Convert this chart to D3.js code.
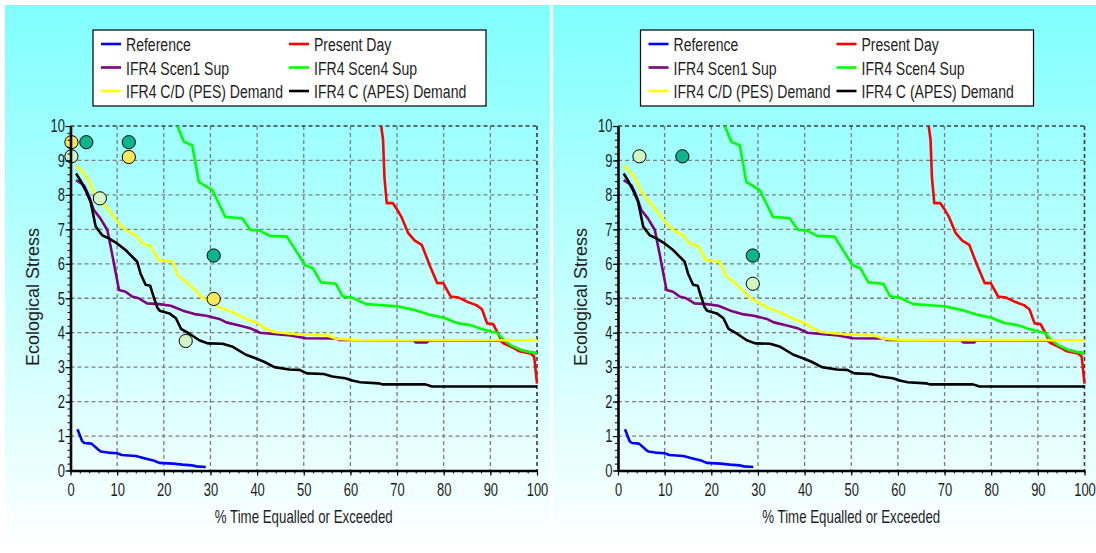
<!DOCTYPE html>
<html>
<head>
<meta charset="utf-8">
<script src="https://cdn.jsdelivr.net/npm/d3@7"></script>
<style>
  html, body { margin: 0; padding: 0; background: #ffffff; }
  svg { display: block; }
  text { font-family: "Liberation Sans", Arial, sans-serif; fill: #1e1e1e; }
</style>
</head>
<body>
<svg id="chart" width="1096" height="553"></svg>
<script>
// Axis ticks
const xTicks = [0, 10, 20, 30, 40, 50, 60, 70, 80, 90, 100];
const yTicks = [0, 1, 2, 3, 4, 5, 6, 7, 8, 9, 10];
const xMinorStep = 2;
const yMinorStep = 0.2;

// Duration curves: [% time equalled or exceeded, ecological stress]
const reference = [[1.5,1.2],[2.5,0.85],[3,0.8],[4.5,0.78],[6,0.6],[6.5,0.55],[8,0.52],[10,0.5],[11,0.45],[14,0.42],[16,0.35],[18,0.28],[19,0.22],[22,0.2],[24,0.17],[26,0.15],[27,0.12],[29,0.1]];
const presentDay = [[66.6,10],[67.0,9.6],[67.3,8.5],[67.8,7.76],[69.1,7.76],[69.9,7.6],[70.9,7.37],[72.4,6.89],[73.8,6.67],[75.3,6.55],[77.1,5.92],[78.6,5.44],[79.9,5.44],[81.5,5.05],[83.2,5.02],[85,4.9],[87,4.8],[88.2,4.68],[89.3,4.27],[90.6,4.25],[92.7,3.7],[94.4,3.6],[96.2,3.46],[98.6,3.4],[99.4,3.3],[100,2.52]];
const scen1Sup = [[1.2,8.43],[2.9,8.28],[3.9,7.99],[5,7.56],[6.4,7.32],[7.9,6.98],[8.9,6.3],[10.4,5.24],[11.8,5.19],[13.2,5.05],[14.6,5.0],[16.4,4.85],[19,4.83],[21.5,4.78],[24.1,4.64],[26.6,4.54],[29.1,4.49],[31.9,4.4],[33.4,4.3],[36.2,4.21],[38.7,4.12],[40.6,4.0],[43.5,3.96],[47.2,3.92],[50.4,3.84],[57,3.83],[57.5,3.79],[73.5,3.78],[74,3.72],[76.4,3.72],[76.8,3.78],[92,3.77],[93.5,3.66],[95,3.56],[96.5,3.5],[98.3,3.44],[100,3.4]];
const scen4Sup = [[22.9,10],[24.3,9.54],[26.1,9.44],[27.5,8.38],[30.4,8.14],[33.2,7.36],[36.8,7.32],[38.6,6.98],[40.4,6.97],[42.7,6.81],[46.4,6.79],[50.3,5.96],[51.9,5.88],[53.7,5.46],[56.9,5.42],[58.3,5.06],[60.5,5.01],[63.3,4.83],[69.9,4.77],[73.4,4.67],[77.3,4.51],[79.9,4.44],[82.8,4.28],[85.7,4.22],[87.8,4.12],[90.2,4.03],[91.4,4.0],[92.9,3.79],[94.3,3.64],[96.5,3.5],[98.3,3.44],[100,3.4]];
const cdPesDemand = [[1.2,8.86],[2.9,8.62],[3.9,8.43],[5,8.09],[6.4,7.85],[8.2,7.56],[9.3,7.36],[10.4,7.17],[11.8,6.98],[13.9,6.83],[15.4,6.59],[17.1,6.52],[18.9,6.11],[21.8,6.06],[23.2,5.63],[24.6,5.5],[26.6,5.25],[28.4,5.0],[29.8,4.9],[32,4.73],[34.8,4.59],[37.6,4.4],[40.2,4.27],[41.5,4.14],[43.6,4.02],[49,3.95],[55,3.92],[57,3.82],[62,3.79],[100,3.78]];
const cApesDemand = [[1.2,8.62],[2.1,8.43],[3.2,8.14],[4.3,7.8],[5.4,7.08],[6.8,6.83],[8.2,6.74],[10,6.59],[11.8,6.4],[14.3,6.06],[15,5.72],[16.1,5.39],[17.1,5.36],[17.8,5.05],[18.6,4.73],[19.1,4.64],[21.2,4.56],[22.6,4.42],[23.7,4.11],[25.5,3.97],[27.6,3.78],[29.4,3.69],[32.6,3.68],[34.8,3.59],[37.6,3.36],[39.8,3.25],[41.6,3.15],[43.7,3.0],[46.9,2.93],[49.1,2.92],[50.7,2.82],[54.3,2.8],[56.1,2.73],[58.9,2.68],[60.4,2.61],[62.1,2.56],[66.1,2.53],[66.8,2.5],[76.1,2.5],[77.5,2.44],[100,2.44]];

// Series names and colours (legend order, two columns)
const seriesNames = ["Reference", "Present Day", "IFR4 Scen1 Sup", "IFR4 Scen4 Sup", "IFR4 C/D (PES) Demand", "IFR4 C (APES) Demand"];
const seriesColors = ["#0000ff", "#ff0000", "#800080", "#00ff00", "#ffff00", "#000000"];
const seriesData = [reference, presentDay, scen1Sup, scen4Sup, cdPesDemand, cApesDemand];
const drawOrder = [0, 2, 1, 3, 4, 5];

// Individual assessment points per panel
const leftTeal   = [[3.4,9.53],[12.5,9.53],[30.7,6.24]];
const leftYellow = [[0.2,9.53],[12.5,9.1],[30.7,4.98]];
const leftPale   = [[0.2,9.12],[6.3,7.9],[24.7,3.76]];
const rightTeal   = [[13.8,9.12],[28.9,6.24]];
const rightYellow = [];
const rightPale   = [[4.6,9.12],[28.9,5.42]];

const markerColors = { teal: "#0fb48c", yellow: "#ffe65a", pale: "#d2f5c6" };

const svg = d3.select("#chart");
const defs = svg.append("defs");
const grad = defs.append("linearGradient").attr("id", "panelBg")
  .attr("x1", 0).attr("y1", 0).attr("x2", 0).attr("y2", 1);
grad.append("stop").attr("offset", "0%").attr("stop-color", "#80ffff");
grad.append("stop").attr("offset", "100%").attr("stop-color", "#ffffff");

// horizontal squeeze of the narrow screen font
const SX_TICK = 0.72, SX_LEG = 0.74, SX_TITLE = 0.70;

function drawPanel(dx, id, markers) {
  const g = svg.append("g").attr("transform", `translate(${dx},0)`);

  g.append("rect").attr("x", 5).attr("y", 5).attr("width", 545).attr("height", 543)
    .attr("fill", "url(#panelBg)");

  const x = d3.scaleLinear().domain([0, 100]).range([70.5, 537]);
  const y = d3.scaleLinear().domain([0, 10]).range([470.5, 126]);

  // dashed grid
  const grid = g.append("g");
  grid.selectAll("line.gx").data(xTicks.slice(1, -1)).join("line")
    .attr("x1", d => x(d)).attr("x2", d => x(d)).attr("y1", y(10)).attr("y2", y(0))
    .attr("stroke", "#7d7d7d").attr("stroke-width", 1.3).attr("stroke-dasharray", "4,3");
  grid.selectAll("line.gy").data(yTicks.slice(1, -1)).join("line")
    .attr("x1", x(0)).attr("x2", x(100)).attr("y1", d => y(d)).attr("y2", d => y(d))
    .attr("stroke", "#7d7d7d").attr("stroke-width", 1.3).attr("stroke-dasharray", "4,3");
  grid.append("line").attr("x1", x(0)).attr("x2", x(100)).attr("y1", y(10)).attr("y2", y(10))
    .attr("stroke", "#3c3c3c").attr("stroke-width", 1.6).attr("stroke-dasharray", "4,3");
  grid.append("line").attr("x1", x(100)).attr("x2", x(100)).attr("y1", y(10)).attr("y2", y(0))
    .attr("stroke", "#3c3c3c").attr("stroke-width", 1.6).attr("stroke-dasharray", "4,3");

  // series
  defs.append("clipPath").attr("id", "clip" + id).append("rect")
    .attr("x", x(0)).attr("y", y(10) - 1).attr("width", x(100) - x(0) + 2).attr("height", y(0) - y(10) + 1);
  const line = d3.line().x(d => x(d[0])).y(d => y(d[1]));
  const lines = g.append("g").attr("clip-path", `url(#clip${id})`);
  drawOrder.forEach(i => {
    lines.append("path").datum(seriesData[i]).attr("d", line)
      .attr("fill", "none").attr("stroke", seriesColors[i]).attr("stroke-width", 2.6)
      .attr("stroke-linejoin", "round");
  });

  // assessment points
  const pts = g.append("g");
  Object.entries(markers).forEach(([key, arr]) => {
    pts.selectAll(null).data(arr).join("circle")
      .attr("cx", d => x(d[0])).attr("cy", d => y(d[1])).attr("r", 6.6)
      .attr("fill", markerColors[key]).attr("stroke", "#000").attr("stroke-width", 1);
  });

  // axes
  const yMinor = d3.range(0, 10 + 1e-9, yMinorStep);
  const xMinor = d3.range(0, 100 + 1e-9, xMinorStep);
  g.append("g").attr("transform", `translate(${x(0)},0)`)
    .call(d3.axisLeft(y).tickValues(yMinor).tickSize(3).tickFormat("").tickSizeOuter(0))
    .call(a => a.select(".domain").remove())
    .call(a => a.selectAll("line").attr("stroke", "#000").attr("stroke-width", 1));
  g.append("g").attr("transform", `translate(0,${y(0)})`)
    .call(d3.axisBottom(x).tickValues(xMinor).tickSize(3).tickFormat("").tickSizeOuter(0))
    .call(a => a.select(".domain").remove())
    .call(a => a.selectAll("line").attr("stroke", "#000").attr("stroke-width", 1));

  const yAxis = g.append("g").attr("transform", `translate(${x(0)},0)`)
    .call(d3.axisLeft(y).tickValues(yTicks).tickSize(5).tickPadding(0).tickSizeOuter(0));
  yAxis.select(".domain").attr("stroke", "#000").attr("stroke-width", 2.6);
  yAxis.selectAll("line").attr("stroke", "#000").attr("stroke-width", 1.2);
  yAxis.selectAll("text").attr("font-size", 18).attr("fill", "#1e1e1e")
    .attr("font-family", "Liberation Sans, Arial, sans-serif")
    .attr("x", -5.5 / SX_TICK).attr("transform", `scale(${SX_TICK},1)`);

  const xAxis = g.append("g").attr("transform", `translate(0,${y(0)})`)
    .call(d3.axisBottom(x).tickValues(xTicks).tickSize(5).tickPadding(8).tickSizeOuter(0));
  xAxis.select(".domain").attr("stroke", "#000").attr("stroke-width", 2.6);
  xAxis.selectAll("line").attr("stroke", "#000").attr("stroke-width", 1.2);
  xAxis.selectAll("text").attr("font-size", 18).attr("fill", "#1e1e1e")
    .attr("font-family", "Liberation Sans, Arial, sans-serif")
    .attr("transform", `scale(${SX_TICK},1)`);

  // axis titles
  g.append("g").attr("transform", `translate(${(x(0) + x(100)) / 2},523)`)
    .append("text").attr("text-anchor", "middle").attr("font-size", 19)
    .attr("transform", `scale(${SX_TITLE},1)`).text("% Time Equalled or Exceeded");
  g.append("text").attr("transform", `translate(39,297) rotate(-90)`)
    .attr("text-anchor", "middle").attr("font-size", 18).text("Ecological Stress");

  // legend
  const leg = g.append("g");
  leg.append("rect").attr("x", 93).attr("y", 30).attr("width", 393).attr("height", 76)
    .attr("fill", "#ffffff").attr("stroke", "#000").attr("stroke-width", 1.2);
  const colX = [101, 289], rowY = [44, 67.5, 91];
  seriesNames.forEach((name, i) => {
    const cx = colX[i % 2], cy = rowY[Math.floor(i / 2)];
    leg.append("line").attr("x1", cx).attr("x2", cx + 20).attr("y1", cy).attr("y2", cy)
      .attr("stroke", seriesColors[i]).attr("stroke-width", 2.6);
    leg.append("g").attr("transform", `translate(${cx + 25},${cy + 7})`)
      .append("text").attr("font-size", 19).attr("transform", `scale(${SX_LEG},1)`).text(name);
  });
}

drawPanel(0, "L", { teal: leftTeal, yellow: leftYellow, pale: leftPale });
drawPanel(547.5, "R", { teal: rightTeal, yellow: rightYellow, pale: rightPale });

// divider between the two panels
svg.append("line").attr("x1", 552).attr("x2", 552).attr("y1", 0).attr("y2", 553)
  .attr("stroke", "#ffffff").attr("stroke-width", 2);
</script>
</body>
</html>
